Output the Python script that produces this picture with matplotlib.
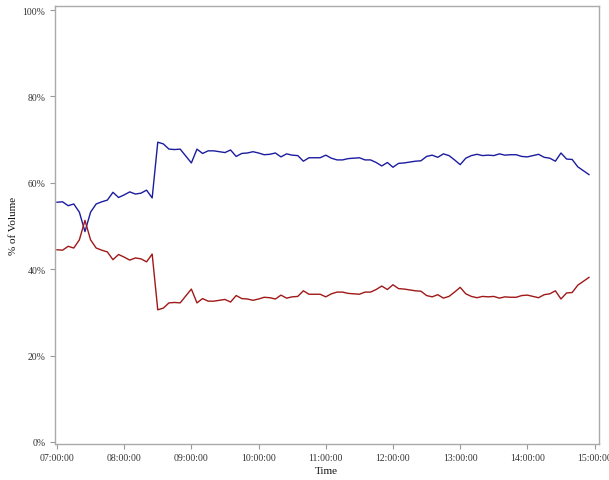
import matplotlib
matplotlib.use("Agg")
import matplotlib.pyplot as plt
import matplotlib.dates as mdates
import pandas as pd

times = pd.date_range("2020-01-01 07:00", periods=96, freq="5min")

blue_pct = [55.5, 55.6, 54.7, 55.1, 53.2, 48.7, 53.2, 55.1, 55.6, 56.0,
            57.8, 56.6, 57.2, 57.9, 57.4, 57.6, 58.3, 56.5, 69.4, 69.0,
            67.8, 67.7, 67.8, 66.2, 64.6, 67.8, 66.8, 67.4, 67.4, 67.2,
            67.0, 67.6, 66.1, 66.8, 66.9, 67.2, 66.9, 66.5, 66.6, 66.9,
            66.0, 66.7, 66.4, 66.3, 65.0, 65.8, 65.8, 65.8, 66.4, 65.7,
            65.3, 65.3, 65.6, 65.7, 65.8, 65.3, 65.3, 64.7, 63.9, 64.7,
            63.6, 64.5, 64.6, 64.8, 65.0, 65.1, 66.1, 66.4, 65.9, 66.7,
            66.3, 65.3, 64.2, 65.7, 66.3, 66.6, 66.3, 66.4, 66.3, 66.7,
            66.4, 66.5, 66.5, 66.1, 66.0, 66.3, 66.6, 65.9, 65.7, 65.0,
            66.9, 65.5, 65.4, 63.7, 62.8, 61.9]

red_pct = [44.5, 44.4, 45.3, 44.9, 46.8, 51.3, 46.8, 44.9, 44.4, 44.0,
           42.2, 43.4, 42.8, 42.1, 42.6, 42.4, 41.7, 43.5, 30.6, 31.0,
           32.2, 32.3, 32.2, 33.8, 35.4, 32.2, 33.2, 32.6, 32.6, 32.8,
           33.0, 32.4, 33.9, 33.2, 33.1, 32.8, 33.1, 33.5, 33.4, 33.1,
           34.0, 33.3, 33.6, 33.7, 35.0, 34.2, 34.2, 34.2, 33.6, 34.3,
           34.7, 34.7, 34.4, 34.3, 34.2, 34.7, 34.7, 35.3, 36.1, 35.3,
           36.4, 35.5, 35.4, 35.2, 35.0, 34.9, 33.9, 33.6, 34.1, 33.3,
           33.7, 34.7, 35.8, 34.3, 33.7, 33.4, 33.7, 33.6, 33.7, 33.3,
           33.6, 33.5, 33.5, 33.9, 34.0, 33.7, 33.4, 34.1, 34.3, 35.0,
           33.1, 34.5, 34.6, 36.3, 37.2, 38.1]

x_ticks = pd.date_range("2020-01-01 07:00", periods=9, freq="1h")
y_ticks = [0, 20, 40, 60, 80, 100]

W, H = 609, 481
fig = plt.figure(figsize=(W / 100, H / 100), dpi=100)
left, right, top, bottom = 54.5, 598.5, 7.3, 444.5
ax = fig.add_axes([left / W, 1 - bottom / H, (right - left) / W, (bottom - top) / H])

ax.plot(times, blue_pct, color="#1c1ca0", lw=1.0)
ax.plot(times, red_pct, color="#a01818", lw=1.0)

t0 = times[0]
ax.set_xlim(t0 - pd.Timedelta(minutes=2.2), t0 + pd.Timedelta(minutes=483.5))
ax.set_ylim(-0.35, 100.86)

ax.set_xticks(x_ticks)
ax.xaxis.set_major_formatter(mdates.DateFormatter("%H:%M:%S"))
ax.set_yticks(y_ticks)
ax.set_yticklabels([f"{v}%" for v in y_ticks])

font = "Liberation Serif"
for lab in ax.get_xticklabels() + ax.get_yticklabels():
    lab.set_fontfamily(font)
    lab.set_fontsize(7)
    lab.set_color("#333333")

ax.tick_params(direction="out", length=3.5, width=0.8, color="#999999", pad=3)
for sp in ax.spines.values():
    sp.set_color("#aaaaaa")
    sp.set_linewidth(1.0)

ax.set_xlabel("Time", fontfamily=font, fontsize=8, color="#111111")
ax.set_ylabel("% of Volume", fontfamily=font, fontsize=8, color="#111111")
ax.xaxis.set_label_coords(0.5, -(472 - bottom) / (bottom - top))
ax.xaxis.label.set_va("center")
ax.yaxis.set_label_coords(-(left - 14) / (right - left), 0.5)
ax.yaxis.label.set_va("center")

fig.savefig("out.png", dpi=100)
